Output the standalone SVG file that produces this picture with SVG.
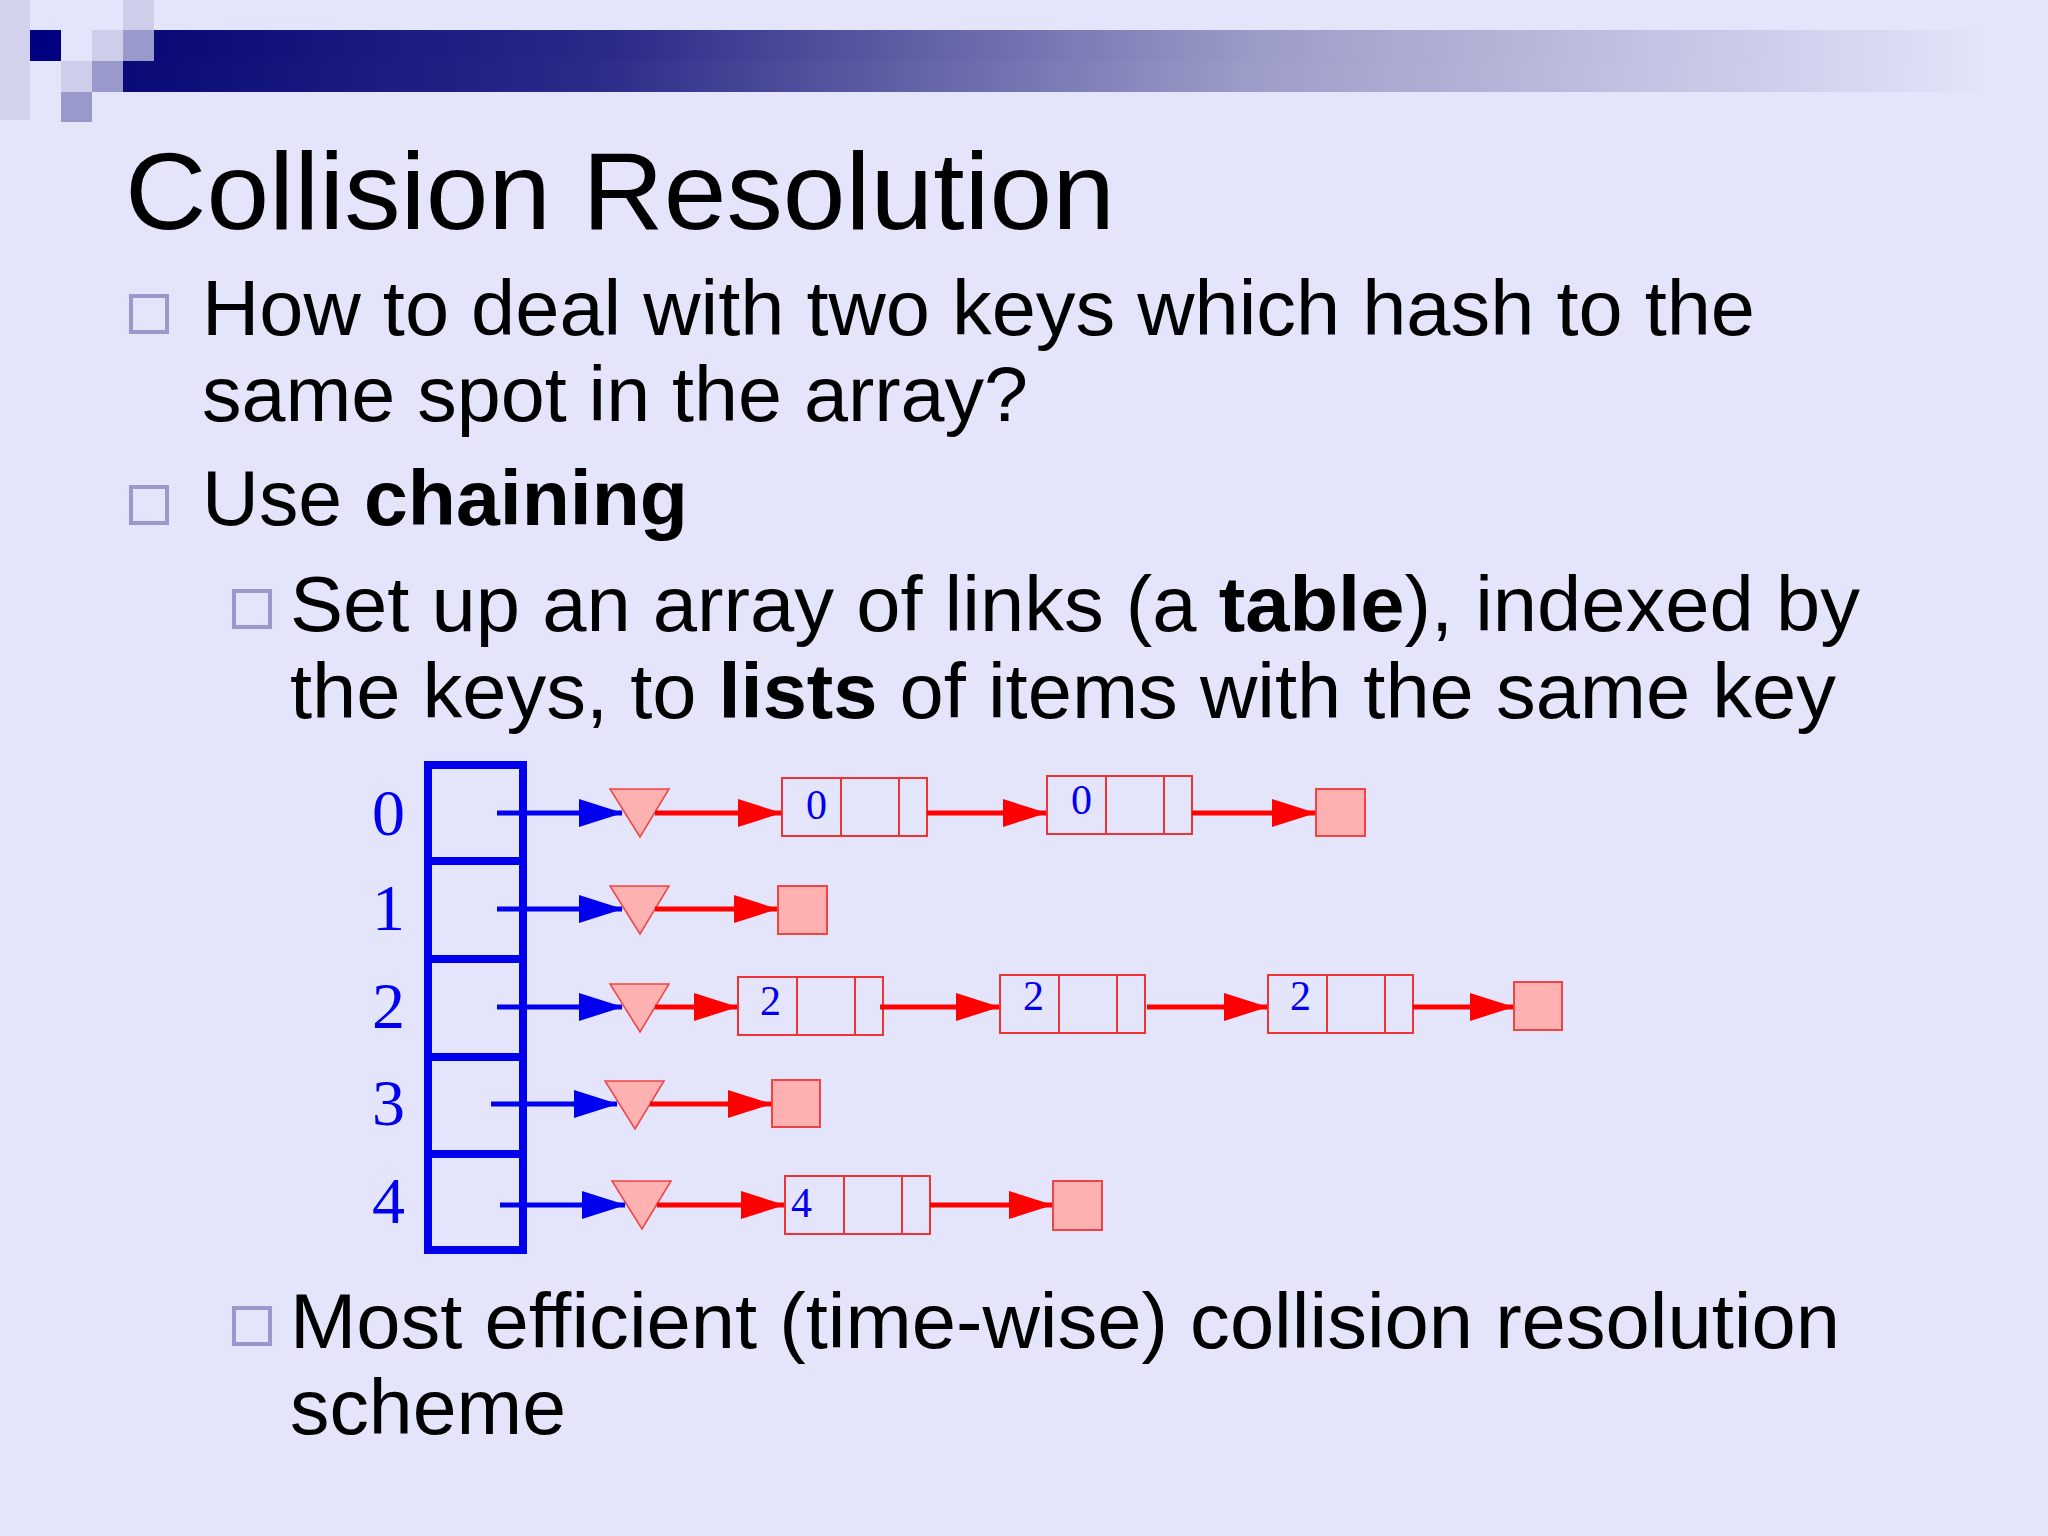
<svg xmlns="http://www.w3.org/2000/svg" width="2048" height="1536" viewBox="0 0 2048 1536">
<defs>
<linearGradient id="bar" x1="0" x2="1" y1="0" y2="0">
<stop offset="0" stop-color="#0a0a78"/><stop offset="0.25" stop-color="#2a2a88"/><stop offset="0.6" stop-color="#9c9cc8"/><stop offset="1" stop-color="#e4e4fa"/>
</linearGradient>
<marker id="ab" markerUnits="userSpaceOnUse" markerWidth="44" markerHeight="28" refX="43" refY="14" orient="auto"><path d="M0,0 L44,14 L0,28 Z" fill="#0000ee"/></marker>
<marker id="ar" markerUnits="userSpaceOnUse" markerWidth="44" markerHeight="28" refX="43" refY="14" orient="auto"><path d="M0,0 L44,14 L0,28 Z" fill="#ff0000"/></marker>
</defs>
<style>
text{font-family:"Liberation Sans",Arial,sans-serif;fill:#000}
.t{font-size:110px}
.b{font-size:78px}
.s{font-size:77px}
.bul{fill:none;stroke:#9999cc;stroke-width:4}
.idx{font-family:"Liberation Serif","Times New Roman",serif;font-size:66px;fill:#0000ee}
.num{font-family:"Liberation Serif","Times New Roman",serif;font-size:42px;fill:#0000ee}
.cell{fill:none;stroke:#ee3333;stroke-width:2}
.nil{fill:#ffb0b0;stroke:#ee4444;stroke-width:2}
.tri{fill:#ffb0b0;stroke:#ee4444;stroke-width:1.5}
.bl{stroke:#0000ee;stroke-width:5;fill:none}
.rl{stroke:#ff0000;stroke-width:5;fill:none}
</style>
<rect width="2048" height="1536" fill="#e4e4fa"/>
<g id="header">
<rect x="0" y="0" width="30" height="120" fill="#d2d2ec"/>
<rect x="123" y="0" width="31" height="30" fill="#ceceea"/>
<rect x="30" y="30" width="31" height="31" fill="#000080"/>
<rect x="92" y="30" width="31" height="31" fill="#ceceea"/>
<rect x="123" y="30" width="31" height="31" fill="#9999cc"/>
<rect x="61" y="61" width="31" height="31" fill="#ceceea"/>
<rect x="92" y="61" width="31" height="31" fill="#9999cc"/>
<rect x="61" y="92" width="31" height="30" fill="#9999cc"/>
<rect x="154" y="30" width="1840" height="31" fill="url(#bar)"/>
<rect x="123" y="61" width="1871" height="31" fill="url(#bar)"/>
</g>
<g id="text">
<text class="t" x="125" y="229" textLength="990" lengthAdjust="spacingAndGlyphs">Collision Resolution</text>
<rect class="bul" x="131" y="296" width="36" height="36"/>
<text class="b" x="202" y="335" textLength="1553" lengthAdjust="spacingAndGlyphs">How to deal with two keys which hash to the</text>
<text class="b" x="202" y="421" textLength="826" lengthAdjust="spacingAndGlyphs">same spot in the array?</text>
<rect class="bul" x="131" y="487" width="36" height="36"/>
<text class="b" x="202" y="525" textLength="486" lengthAdjust="spacingAndGlyphs">Use <tspan font-weight="bold">chaining</tspan></text>
<rect class="bul" x="234" y="591" width="36" height="36"/>
<text class="s" x="290" y="631" textLength="1570" lengthAdjust="spacingAndGlyphs">Set up an array of links (a <tspan font-weight="bold">table</tspan>), indexed by</text>
<text class="s" x="290" y="718" textLength="1546" lengthAdjust="spacingAndGlyphs">the keys, to <tspan font-weight="bold">lists</tspan> of items with the same key</text>
<rect class="bul" x="234" y="1308" width="36" height="36"/>
<text class="s" x="290" y="1348" textLength="1550" lengthAdjust="spacingAndGlyphs">Most efficient (time-wise) collision resolution</text>
<text class="s" x="290" y="1434" textLength="276" lengthAdjust="spacingAndGlyphs">scheme</text>
</g>
<g id="table">
<rect x="428" y="765" width="95" height="485" fill="none" stroke="#0000ee" stroke-width="8"/>
<path d="M428,861 H523 M428,959 H523 M428,1057 H523 M428,1154 H523" stroke="#0000ee" stroke-width="8"/>
<text class="idx" x="372" y="835">0</text>
<text class="idx" x="372" y="930">1</text>
<text class="idx" x="372" y="1028">2</text>
<text class="idx" x="372" y="1125">3</text>
<text class="idx" x="372" y="1223">4</text>
</g>
<g id="nodes">
<g id="tri0"><path class="tri" d="M610,789 L669,789 L640,837 Z"/></g>
<g id="tri1"><path class="tri" d="M610,886 L669,886 L640,934 Z"/></g>
<g id="tri2"><path class="tri" d="M610,984 L669,984 L640,1032 Z"/></g>
<g id="tri3"><path class="tri" d="M605,1081 L664,1081 L635,1129 Z"/></g>
<g id="tri4"><path class="tri" d="M612,1181 L671,1181 L642,1229 Z"/></g>
<g id="n00"><rect class="cell" x="782" y="778" width="145" height="58"/><path class="cell" d="M841,778 V836 M899,778 V836"/><text class="num" x="806" y="819">0</text></g>
<g id="n01"><rect class="cell" x="1047" y="776" width="145" height="58"/><path class="cell" d="M1106,776 V834 M1164,776 V834"/><text class="num" x="1071" y="814">0</text></g>
<g id="nil0"><rect class="nil" x="1316" y="789" width="49" height="47"/></g>
<g id="nil1"><rect class="nil" x="778" y="886" width="49" height="48"/></g>
<g id="n20"><rect class="cell" x="738" y="977" width="145" height="58"/><path class="cell" d="M797,977 V1035 M855,977 V1035"/><text class="num" x="760" y="1015">2</text></g>
<g id="n21"><rect class="cell" x="1000" y="975" width="145" height="58"/><path class="cell" d="M1059,975 V1033 M1117,975 V1033"/><text class="num" x="1023" y="1010">2</text></g>
<g id="n22"><rect class="cell" x="1268" y="975" width="145" height="58"/><path class="cell" d="M1327,975 V1033 M1385,975 V1033"/><text class="num" x="1290" y="1010">2</text></g>
<g id="nil2"><rect class="nil" x="1514" y="982" width="48" height="48"/></g>
<g id="nil3"><rect class="nil" x="772" y="1080" width="48" height="47"/></g>
<g id="n40"><rect class="cell" x="785" y="1176" width="145" height="58"/><path class="cell" d="M844,1176 V1234 M902,1176 V1234"/><text class="num" x="791" y="1217">4</text></g>
<g id="nil4"><rect class="nil" x="1053" y="1181" width="49" height="49"/></g>
</g>
<g id="connectors">
<path class="bl" marker-end="url(#ab)" d="M497,813 H622"/>
<path class="bl" marker-end="url(#ab)" d="M497,909 H622"/>
<path class="bl" marker-end="url(#ab)" d="M497,1007 H622"/>
<path class="bl" marker-end="url(#ab)" d="M491,1104 H617"/>
<path class="bl" marker-end="url(#ab)" d="M500,1205 H625"/>
<path class="rl" marker-end="url(#ar)" d="M655,813 H781"/>
<path class="rl" marker-end="url(#ar)" d="M927,813 H1046"/>
<path class="rl" marker-end="url(#ar)" d="M1192,813 H1315"/>
<path class="rl" marker-end="url(#ar)" d="M655,909 H777"/>
<path class="rl" marker-end="url(#ar)" d="M655,1007 H737"/>
<path class="rl" marker-end="url(#ar)" d="M880,1007 H999"/>
<path class="rl" marker-end="url(#ar)" d="M1147,1007 H1267"/>
<path class="rl" marker-end="url(#ar)" d="M1413,1007 H1513"/>
<path class="rl" marker-end="url(#ar)" d="M650,1104 H771"/>
<path class="rl" marker-end="url(#ar)" d="M657,1205 H784"/>
<path class="rl" marker-end="url(#ar)" d="M930,1205 H1052"/>
</g>
</svg>
